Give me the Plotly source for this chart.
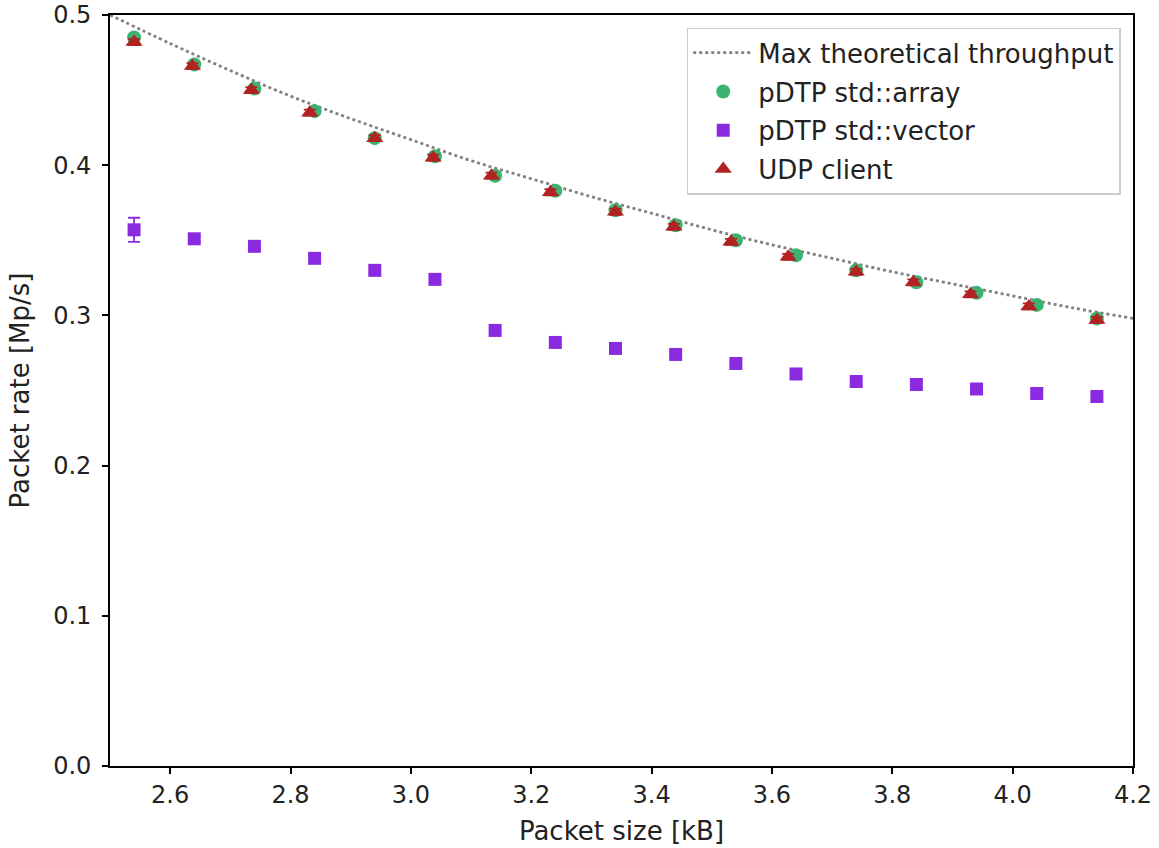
import plotly.graph_objects as go

# Max theoretical throughput
theory_x = [2.5, 2.6, 2.7, 2.8, 2.9, 3.0, 3.1, 3.2, 3.3, 3.4, 3.5, 3.6, 3.7, 3.8, 3.9, 4.0, 4.1, 4.2]
theory_y = [0.500, 0.481, 0.463, 0.446, 0.431, 0.417, 0.403, 0.391, 0.379, 0.368, 0.357, 0.347, 0.338, 0.329, 0.321, 0.313, 0.305, 0.298]

# pDTP std::array
array_x = [2.54, 2.64, 2.74, 2.84, 2.94, 3.04, 3.14, 3.24, 3.34, 3.44, 3.54, 3.64, 3.74, 3.84, 3.94, 4.04, 4.14]
array_y = [0.485, 0.467, 0.451, 0.436, 0.418, 0.406, 0.393, 0.383, 0.370, 0.360, 0.350, 0.340, 0.330, 0.322, 0.315, 0.307, 0.298]
array_err = [0.002] * 17

# pDTP std::vector
vector_x = [2.54, 2.64, 2.74, 2.84, 2.94, 3.04, 3.14, 3.24, 3.34, 3.44, 3.54, 3.64, 3.74, 3.84, 3.94, 4.04, 4.14]
vector_y = [0.357, 0.351, 0.346, 0.338, 0.330, 0.324, 0.290, 0.282, 0.278, 0.274, 0.268, 0.261, 0.256, 0.254, 0.251, 0.248, 0.246]
vector_err = [0.008, 0.002, 0.002, 0.002, 0.002, 0.002, 0.002, 0.002, 0.002, 0.002, 0.002, 0.002, 0.002, 0.002, 0.002, 0.002, 0.002]

# UDP client
udp_x = [2.54, 2.637, 2.735, 2.832, 2.94, 3.037, 3.134, 3.232, 3.34, 3.437, 3.532, 3.627, 3.74, 3.835, 3.93, 4.027, 4.14]
udp_y = [0.482, 0.466, 0.450, 0.435, 0.418, 0.405, 0.393, 0.382, 0.369, 0.359, 0.349, 0.339, 0.329, 0.322, 0.314, 0.306, 0.297]
udp_err = [0.002] * 17

x_ticks = [2.6, 2.8, 3.0, 3.2, 3.4, 3.6, 3.8, 4.0, 4.2]
y_ticks = [0.0, 0.1, 0.2, 0.3, 0.4, 0.5]

GREEN = "#3CB371"
PURPLE = "#8A2BE2"
RED = "#B22222"

fig = go.Figure()
fig.add_trace(go.Scatter(
    x=theory_x, y=theory_y, mode="lines", name="Max theoretical throughput",
    legendgroup="g1",
    line=dict(color="#808080", width=2.8, dash="dot"), line_shape="spline"))
fig.add_trace(go.Scatter(
    x=array_x, y=array_y, mode="markers", name="pDTP std::array",
    legendgroup="g2",
    marker=dict(color=GREEN, size=14, symbol="circle"),
    error_y=dict(type="data", array=array_err, color=GREEN, thickness=1.8, width=6)))
fig.add_trace(go.Scatter(
    x=vector_x, y=vector_y, mode="markers", name="pDTP std::vector",
    legendgroup="g3",
    marker=dict(color=PURPLE, size=13, symbol="square"),
    error_y=dict(type="data", array=vector_err, color=PURPLE, thickness=1.8, width=6)))
fig.add_trace(go.Scatter(
    x=udp_x, y=udp_y, mode="markers", name="UDP client",
    legendgroup="g4",
    marker=dict(color=RED, size=15, symbol="triangle-up"),
    error_y=dict(type="data", array=udp_err, color=RED, thickness=1.8, width=6)))

axis_common = dict(
    showgrid=False, zeroline=False, showline=True, linecolor="black", linewidth=1.8,
    mirror=True, ticks="outside", ticklen=6, tickwidth=1.5, tickcolor="black",
    tickfont=dict(family="DejaVu Sans", size=24, color="#222"),
    automargin=False, ticklabeloverflow="allow",
)

fig.update_layout(
    width=1159, height=848,
    margin=dict(l=110, r=26, t=15, b=82),
    paper_bgcolor="white", plot_bgcolor="white",
    font=dict(family="DejaVu Sans", size=24, color="#222"),
    xaxis=dict(range=[2.5, 4.2], tickvals=x_ticks, tickformat=".1f",
               title=dict(text="Packet size [kB]", font=dict(size=26), standoff=14),
               **axis_common),
    yaxis=dict(range=[0.0, 0.5], tickvals=y_ticks, tickformat=".1f",
               ticklabelstandoff=6,
               title=dict(text="Packet rate [Mp/s]", font=dict(size=26), standoff=16),
               **axis_common),
    legend=dict(x=0.988, y=0.983, xanchor="right", yanchor="top",
                bgcolor="rgba(255,255,255,0.8)", bordercolor="#cccccc", borderwidth=1.5,
                font=dict(family="DejaVu Sans", size=26, color="#222"),
                itemwidth=60, tracegroupgap=2),
    showlegend=True,
)

fig.write_html("out.html", config={"displayModeBar": False},
               post_script="document.body.style.margin='0';")
